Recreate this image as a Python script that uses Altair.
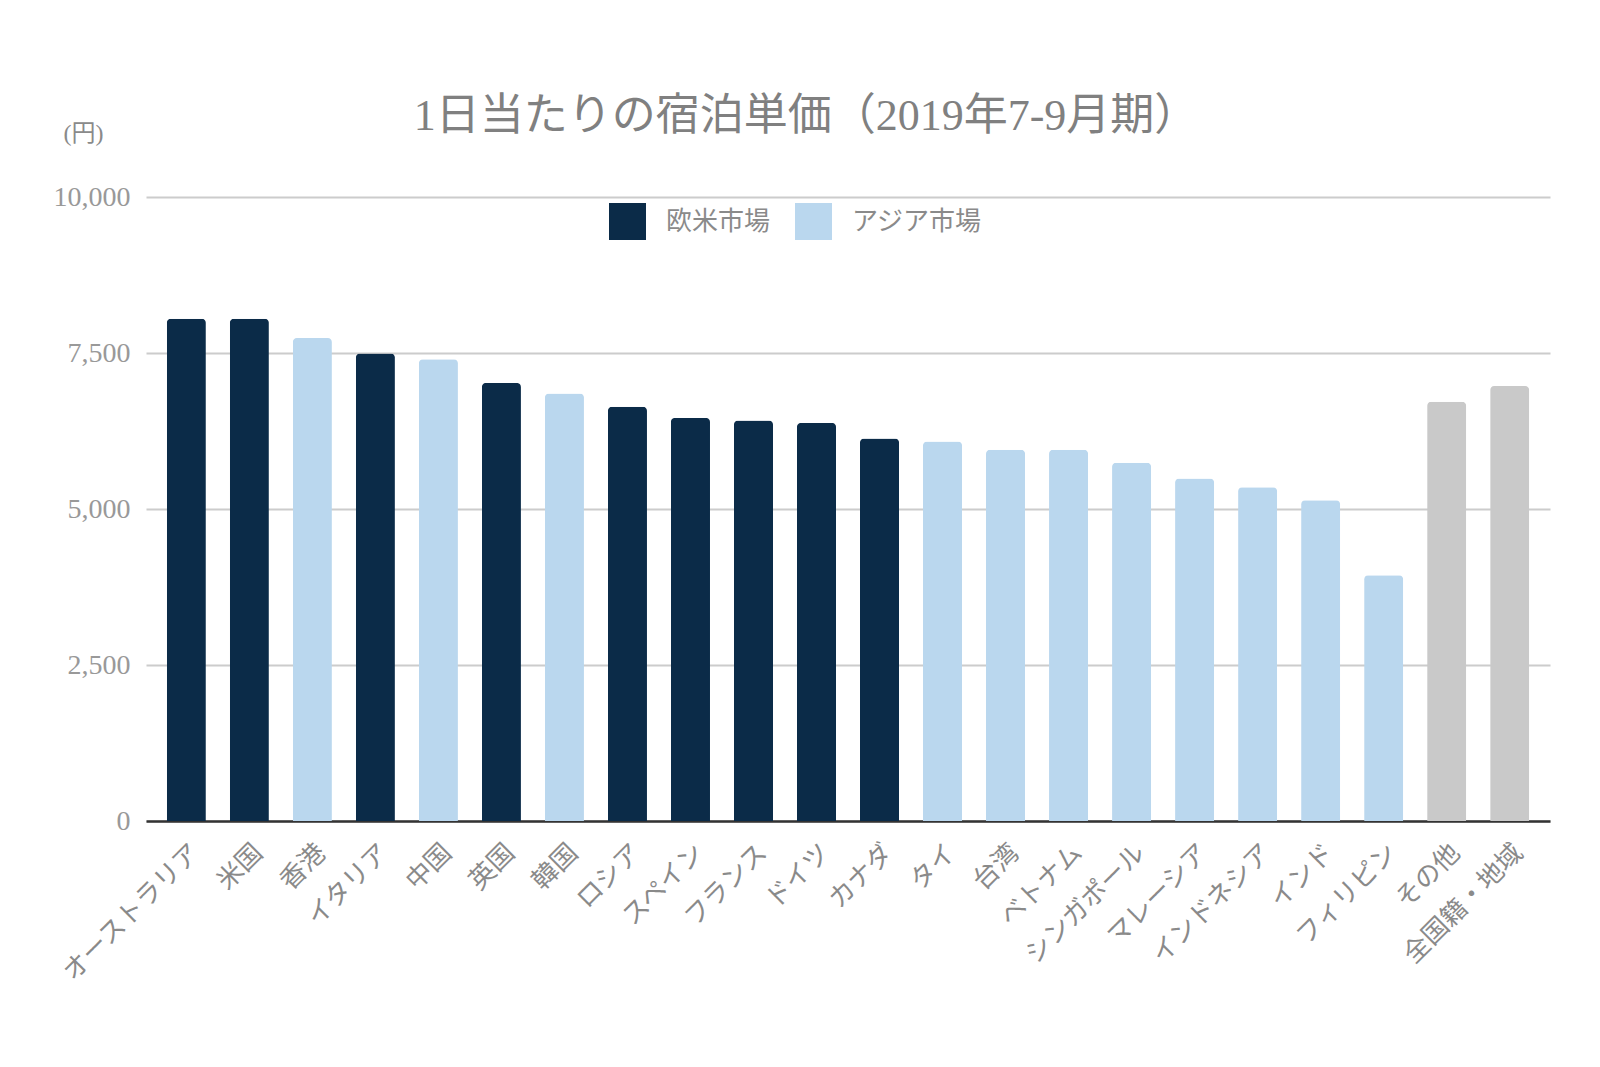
import altair as alt
import pandas as pd

categories = ["オーストラリア", "米国", "香港", "イタリア", "中国", "英国", "韓国", "ロシア",
              "スペイン", "フランス", "ドイツ", "カナダ", "タイ", "台湾", "ベトナム",
              "シンガポール", "マレーシア", "インドネシア", "インド", "フィリピン",
              "その他", "全国籍・地域"]
values = [8050, 8050, 7740, 7490, 7400, 7020, 6850, 6640, 6460, 6420, 6380, 6130,
          6080, 5950, 5950, 5740, 5490, 5350, 5140, 3940, 6720, 6970]
groups = ["欧米市場", "欧米市場", "アジア市場", "欧米市場", "アジア市場", "欧米市場",
          "アジア市場", "欧米市場", "欧米市場", "欧米市場", "欧米市場", "欧米市場",
          "アジア市場", "アジア市場", "アジア市場", "アジア市場", "アジア市場",
          "アジア市場", "アジア市場", "アジア市場", "その他", "その他"]
y_ticks = [0, 2500, 5000, 7500, 10000]

FONT = "Liberation Serif, Noto Sans CJK JP"
TEXT = "#8a8a8a"

df = pd.DataFrame({"国籍": categories, "単価": values, "市場": groups})

chart = alt.Chart(df).mark_bar(
    cornerRadiusTopLeft=4, cornerRadiusTopRight=4
).encode(
    x=alt.X("国籍:N", sort=categories,
            scale=alt.Scale(paddingInner=0.38, paddingOuter=0.33),
            axis=alt.Axis(title=None, labelAngle=-45, labelFontSize=26, labelFont=FONT,
                          labelColor=TEXT, labelPadding=18, ticks=False,
                          domainColor="#333333", domainWidth=2.5, labelLimit=400)),
    y=alt.Y("単価:Q", scale=alt.Scale(domain=[0, 10000]),
            axis=alt.Axis(values=y_ticks, format=",.0f", title="(円)", titleAngle=0,
                          titleX=-63, titleY=-64, titleAlign="center", titleBaseline="middle",
                          titleFont=FONT, titleFontSize=24, titleFontWeight="normal",
                          titleColor=TEXT, labelFont=FONT, labelFontSize=28,
                          labelColor="#999999", labelPadding=16, domain=False, ticks=False,
                          gridColor="#cccccc", gridWidth=2)),
    color=alt.Color("市場:N",
                    scale=alt.Scale(domain=["欧米市場", "アジア市場", "その他"],
                                    range=["#0b2b48", "#bad7ee", "#c9c9c9"]),
                    legend=alt.Legend(values=["欧米市場", "アジア市場"], title=None,
                                      orient="none", legendX=463, legendY=6,
                                      direction="horizontal", symbolType="square",
                                      symbolSize=1369, symbolStrokeWidth=0,
                                      symbolOpacity=1,
                                      labelFont=FONT, labelFontSize=26, labelColor=TEXT,
                                      labelOffset=20, columnPadding=24)),
).properties(
    width=1404, height=624,
    title=alt.TitleParams("1日当たりの宿泊単価（2019年7-9月期）", font=FONT, fontSize=44,
                          fontWeight="normal", color="#808080", anchor="middle",
                          dx=-42, dy=80, offset=62),
    padding={"left": 138, "top": 189, "right": 40, "bottom": 230},
    autosize=alt.AutoSizeParams(type="none"),
).configure_view(stroke=None)

chart.save("out.html", embed_options={"renderer": "svg", "actions": False})
